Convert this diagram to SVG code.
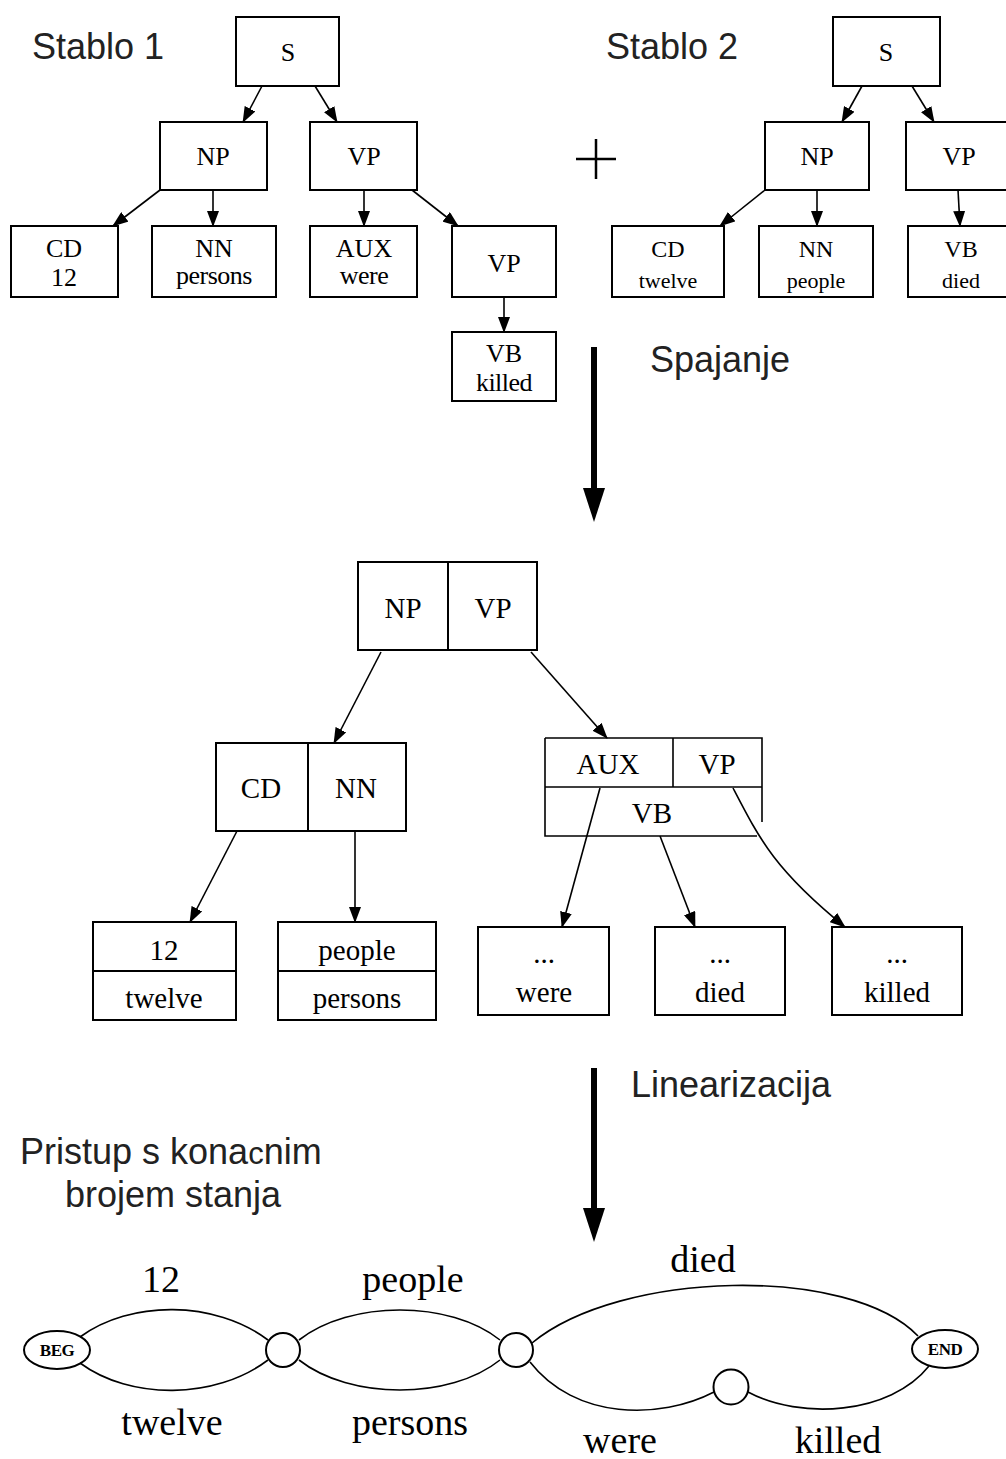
<svg xmlns="http://www.w3.org/2000/svg" width="1006" height="1459" viewBox="0 0 1006 1459">
<style>
.box{fill:#fff;stroke:#000;stroke-width:2}
.ln{fill:none;stroke:#000;stroke-width:1.6}
.sans{font-family:"Liberation Sans",Arial,sans-serif;fill:#222;font-size:36px}
.ser{font-family:"Liberation Serif","Times New Roman",serif;fill:#000;text-anchor:middle}
.t1{font-size:26px}
.t1s{font-size:22px}
.t2{font-size:29px}
.t3{font-size:38px}
.small{font-size:17px;font-weight:bold}
</style>
<defs>
<marker id="ah" markerUnits="userSpaceOnUse" markerWidth="16" markerHeight="12" refX="15" refY="6" orient="auto">
<path d="M0,0 L16,6 L0,12 Z" fill="#000"/>
</marker>
<marker id="big" markerUnits="userSpaceOnUse" markerWidth="34" markerHeight="22" refX="17" refY="11" orient="auto">
<path d="M0,0 L34,11 L0,22 Z" fill="#000"/>
</marker>
</defs>
<rect width="1006" height="1459" fill="#fff"/>

<text class="sans" x="32" y="59">Stablo 1</text>
<text class="sans" x="606" y="59">Stablo 2</text>
<text class="sans" x="650" y="372">Spajanje</text>
<text class="sans" x="631" y="1097">Linearizacija</text>
<text class="sans" x="20" y="1164">Pristup s kona<tspan font-size="31">c</tspan>nim</text>
<text class="sans" x="65" y="1207">brojem stanja</text>

<g id="plus"><path d="M576,159 H616 M596,139 V179" stroke="#000" stroke-width="2.5"/></g>

<!-- tree 1 -->
<g id="t1_s"><rect class="box" x="236" y="17" width="103" height="69"/><text class="ser t1" x="288" y="61">S</text></g>
<g id="t1_np"><rect class="box" x="160" y="122" width="107" height="68"/><text class="ser t1" x="213" y="165">NP</text></g>
<g id="t1_vp"><rect class="box" x="310" y="122" width="107" height="68"/><text class="ser t1" x="364" y="165">VP</text></g>
<g id="t1_cd"><rect class="box" x="11" y="226" width="107" height="71"/><text class="ser t1" x="64" y="257">CD</text><text class="ser t1" x="64" y="286">12</text></g>
<g id="t1_nn"><rect class="box" x="152" y="226" width="124" height="71"/><text class="ser t1" x="214" y="257">NN</text><text class="ser t1" x="214" y="284" letter-spacing="-0.5">persons</text></g>
<g id="t1_aux"><rect class="box" x="310" y="226" width="107" height="71"/><text class="ser t1" x="364" y="257">AUX</text><text class="ser t1" x="364" y="284" letter-spacing="-0.5">were</text></g>
<g id="t1_vp2"><rect class="box" x="452" y="226" width="104" height="71"/><text class="ser t1" x="504" y="272">VP</text></g>
<g id="t1_vb"><rect class="box" x="452" y="332" width="104" height="69"/><text class="ser t1" x="504" y="362">VB</text><text class="ser t1" x="504" y="391" letter-spacing="-0.5">killed</text></g>

<!-- tree 2 -->
<g id="t2_s"><rect class="box" x="833" y="17" width="107" height="69"/><text class="ser t1" x="886" y="61">S</text></g>
<g id="t2_np"><rect class="box" x="765" y="122" width="104" height="68"/><text class="ser t1" x="817" y="165">NP</text></g>
<g id="t2_vp"><rect class="box" x="906" y="122" width="110" height="68"/><text class="ser t1" x="959" y="165">VP</text></g>
<g id="t2_cd"><rect class="box" x="612" y="226" width="112" height="71"/><text class="ser" font-size="24" x="668" y="257">CD</text><text class="ser t1s" x="668" y="288">twelve</text></g>
<g id="t2_nn"><rect class="box" x="759" y="226" width="114" height="71"/><text class="ser" font-size="24" x="816" y="257">NN</text><text class="ser t1s" x="816" y="288">people</text></g>
<g id="t2_vb"><rect class="box" x="908" y="226" width="110" height="71"/><text class="ser" font-size="24" x="961" y="257">VB</text><text class="ser t1s" x="961" y="288">died</text></g>

<!-- merged tree -->
<g id="m_root"><rect class="box" x="358" y="562" width="179" height="88"/><line x1="448" y1="562" x2="448" y2="650" stroke="#000" stroke-width="2"/><text class="ser t2" x="403" y="618">NP</text><text class="ser t2" x="493" y="618">VP</text></g>
<g id="m_np"><rect class="box" x="216" y="743" width="190" height="88"/><line x1="308" y1="743" x2="308" y2="831" stroke="#000" stroke-width="2"/><text class="ser t2" x="261" y="798">CD</text><text class="ser t2" x="356" y="798">NN</text></g>
<g id="m_vp"><path d="M545,738 H762 V822 M762,787 H545 M673,738 V787 M545,738 V836 H757" class="ln" stroke-width="2"/><text class="ser t2" x="608" y="774">AUX</text><text class="ser t2" x="717" y="774">VP</text><text class="ser t2" x="652" y="823">VB</text></g>
<g id="m_12"><rect class="box" x="93" y="922" width="143" height="98"/><line x1="93" y1="971" x2="236" y2="971" stroke="#000" stroke-width="2"/><text class="ser t2" x="164" y="960">12</text><text class="ser t2" x="164" y="1008">twelve</text></g>
<g id="m_people"><rect class="box" x="278" y="922" width="158" height="98"/><line x1="278" y1="971" x2="436" y2="971" stroke="#000" stroke-width="2"/><text class="ser t2" x="357" y="960">people</text><text class="ser t2" x="357" y="1008">persons</text></g>
<g id="m_were"><rect class="box" x="478" y="927" width="131" height="88"/><text class="ser t2" x="544" y="963">...</text><text class="ser t2" x="544" y="1002">were</text></g>
<g id="m_died"><rect class="box" x="655" y="927" width="130" height="88"/><text class="ser t2" x="720" y="963">...</text><text class="ser t2" x="720" y="1002">died</text></g>
<g id="m_killed"><rect class="box" x="832" y="927" width="130" height="88"/><text class="ser t2" x="897" y="963">...</text><text class="ser t2" x="897" y="1002">killed</text></g>

<!-- FSA nodes -->
<g id="f_beg"><ellipse cx="57" cy="1350" rx="33" ry="19" class="box" stroke-width="1.8"/><text class="ser small" x="57" y="1356" letter-spacing="-0.5">BEG</text></g>
<g id="f_n1"><circle cx="283" cy="1350" r="17" class="box" stroke-width="1.8"/></g>
<g id="f_n2"><circle cx="516" cy="1350" r="17" class="box" stroke-width="1.8"/></g>
<g id="f_n3"><circle cx="731" cy="1387" r="17.5" class="box" stroke-width="1.8"/></g>
<g id="f_end"><ellipse cx="945" cy="1349" rx="33" ry="19" class="box" stroke-width="1.8"/><text class="ser small" x="945" y="1355" letter-spacing="-0.5">END</text></g>

<g id="connectors">
<!-- tree 1 -->
<path class="ln" d="M262,86 L243,122" marker-end="url(#ah)"/>
<path class="ln" d="M315,86 L337,122" marker-end="url(#ah)"/>
<path class="ln" d="M160,190 L113,226" marker-end="url(#ah)"/>
<path class="ln" d="M213,190 L213,226" marker-end="url(#ah)"/>
<path class="ln" d="M364,190 L364,226" marker-end="url(#ah)"/>
<path class="ln" d="M412,190 L458,226" marker-end="url(#ah)"/>
<path class="ln" d="M504,297 L504,332" marker-end="url(#ah)"/>
<!-- tree 2 -->
<path class="ln" d="M862,86 L842,122" marker-end="url(#ah)"/>
<path class="ln" d="M912,86 L934,122" marker-end="url(#ah)"/>
<path class="ln" d="M765,190 L720,226" marker-end="url(#ah)"/>
<path class="ln" d="M817,190 L817,226" marker-end="url(#ah)"/>
<path class="ln" d="M958,190 L960,226" marker-end="url(#ah)"/>
<!-- big arrows -->
<path d="M594,347 L594,505" stroke="#000" stroke-width="6" marker-end="url(#big)"/>
<path d="M594,1068 L594,1225" stroke="#000" stroke-width="6" marker-end="url(#big)"/>
<!-- merged -->
<path class="ln" d="M381,652 L334,743" marker-end="url(#ah)"/>
<path class="ln" d="M531,652 L607,738" marker-end="url(#ah)"/>
<path class="ln" d="M237,831 L190,922" marker-end="url(#ah)"/>
<path class="ln" d="M355,831 L355,922" marker-end="url(#ah)"/>
<path class="ln" d="M600,788 L562,927" marker-end="url(#ah)"/>
<path class="ln" d="M660,836 L695,927" marker-end="url(#ah)"/>
<path class="ln" d="M733,788 C760,840 775,870 845,927" marker-end="url(#ah)"/>
<!-- FSA -->
<path class="ln" d="M80,1337 C130,1300 215,1300 268,1340"/>
<path class="ln" d="M80,1363 C130,1400 215,1400 268,1360"/>
<path class="ln" d="M299,1340 C350,1300 450,1300 500,1340"/>
<path class="ln" d="M299,1360 C350,1400 450,1400 500,1360"/>
<path class="ln" d="M532,1343 C620,1270 850,1265 918,1336"/>
<path class="ln" d="M530,1362 C575,1420 660,1420 714,1392"/>
<path class="ln" d="M748,1392 C800,1420 890,1415 929,1366"/>
</g>

<text class="ser t3" x="161" y="1292">12</text>
<text class="ser t3" x="413" y="1292">people</text>
<text class="ser t3" x="703" y="1272">died</text>
<text class="ser t3" x="172" y="1435">twelve</text>
<text class="ser t3" x="410" y="1435">persons</text>
<text class="ser t3" x="620" y="1453">were</text>
<text class="ser t3" x="838" y="1453">killed</text>
</svg>
